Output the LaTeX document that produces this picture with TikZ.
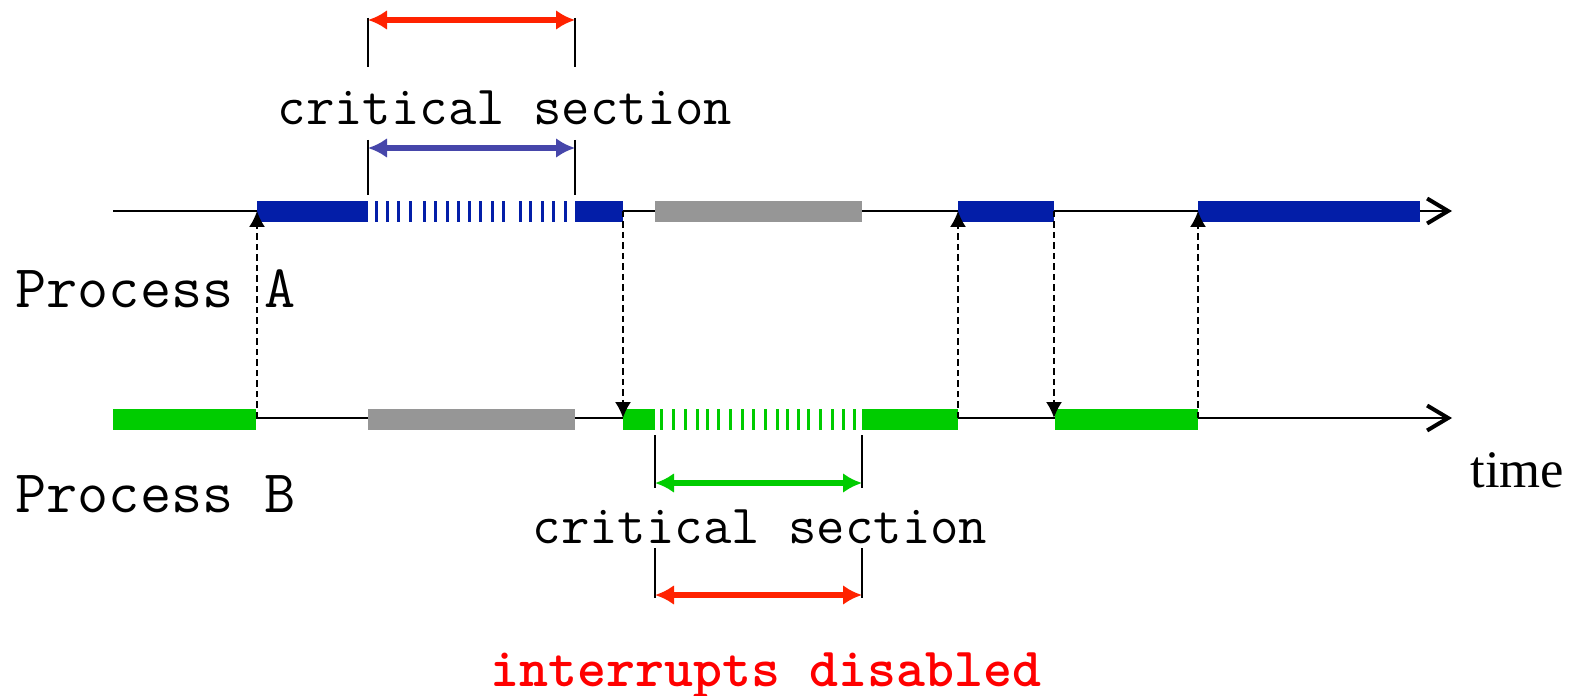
\documentclass[tikz,border=0pt]{standalone}
\usepackage{fontspec}
\setmainfont{Liberation Serif}
\usetikzlibrary{arrows.meta}

\definecolor{runA}{RGB}{3,30,168}
\definecolor{runB}{RGB}{0,204,0}
\definecolor{idle}{RGB}{150,150,150}
\definecolor{csA}{RGB}{70,70,170}
\definecolor{irq}{RGB}{255,34,0}
\definecolor{irqtext}{RGB}{255,0,0}

\begin{document}
\begin{tikzpicture}[
      x = 0.02cm, y = -0.02cm,
      > = {Latex[length=0.32cm, width=0.32cm]},
      semithick]

  \tikzstyle{timeline}=[line width=0.04cm,
    -{Straight Barb[length=0.42cm, width=0.5cm, line width=0.08cm]}]
  \tikzstyle{switch}=[line width=0.035cm, dash pattern=on 0.13cm off 0.08cm, ->]
  \tikzstyle{tick}=[line width=0.04cm]
  \tikzstyle{cslen}=[line width=0.11cm,
    {Latex[length=0.38cm, width=0.4cm]}-{Latex[length=0.38cm, width=0.4cm]}]
  \tikzstyle{lbl}=[inner sep=0, anchor=base,
    font=\ttfamily\fontsize{31.4}{34}\selectfont]
  \tikzstyle{proc}=[inner sep=0, anchor=base west,
    font=\ttfamily\fontsize{34.4}{36}\selectfont]

  \useasboundingbox (0,0) rectangle (1572,696);

  % time axes
  \coordinate (A0) at (113,211);
  \coordinate (A1) at (1452,211);
  \coordinate (B0) at (113,418);
  \coordinate (B1) at (1452,418);
  \draw[timeline] (A0) -- (A1);
  \draw[timeline] (B0) -- (B1);

  % process A
  \fill[runA] (257,201) rectangle (368,222);
  \fill[white] (368,201) rectangle (575,222);
  \fill[runA] (575,201) rectangle (623,222);
  \foreach \x in {376,387,398,410,424,435,447,458,469,480,492,503,520,530,542,553,565}
    \fill[runA] (\x-1.5,201) rectangle (\x+1.5,222);
  \fill[idle] (655,201) rectangle (862,222);
  \fill[runA] (958,201) rectangle (1054,222);
  \fill[runA] (1198,201) rectangle (1420,222);

  % process B
  \fill[runB] (113,409) rectangle (256,430);
  \fill[idle] (368,409) rectangle (575,430);
  \fill[runB] (623,409) rectangle (655,430);
  \fill[white] (655,409) rectangle (862,430);
  \foreach \x in {661,673,685,697,707,718,730,742,753,765,777,787,798,808,820,832,843,854}
    \fill[runB] (\x-1.5,409) rectangle (\x+1.5,430);
  \fill[runB] (862,409) rectangle (958,430);
  \fill[runB] (1055,409) rectangle (1198,430);

  % context switches
  \foreach \x/\n in {257/1,623/2,958/3,1054/4,1198/5} {
    \coordinate (a\n) at (\x,211);
    \coordinate (b\n) at (\x,418);
  }
  \draw[switch] (b1) -- (a1);
  \draw[switch] (a2) -- (b2);
  \draw[switch] (b3) -- (a3);
  \draw[switch] (a4) -- (b4);
  \draw[switch] (b5) -- (a5);

  % critical section of A
  \draw[tick] (368,18) -- (368,67);
  \draw[tick] (575,18) -- (575,67);
  \draw[cslen, irq] (368,20) -- (575,20);
  \draw[tick] (368,140) -- (368,195);
  \draw[tick] (575,140) -- (575,195);
  \draw[cslen, csA] (368,148) -- (575,148);
  \node[lbl] (csa) at (505,125) {critical section};

  % critical section of B
  \draw[tick] (655,435) -- (655,488);
  \draw[tick] (862,435) -- (862,488);
  \draw[cslen, runB] (655,483) -- (862,483);
  \node[lbl] (csb) at (760,543) {critical section};
  \draw[tick] (655,548) -- (655,598);
  \draw[tick] (862,548) -- (862,598);
  \draw[cslen, irq] (655,595) -- (862,595);

  \node[lbl, text=irqtext, font=\ttfamily\bfseries\fontsize{31.4}{34}\selectfont]
    (irqoff) at (766,686) {interrupts disabled};

  \node[proc] (pa) at (15,307) {Process A};
  \node[proc] (pb) at (15,512) {Process B};
  \node[inner sep=0, anchor=base west, font=\fontsize{30}{32}\selectfont]
    (time) at (1470,487) {time};
\end{tikzpicture}
\end{document}
